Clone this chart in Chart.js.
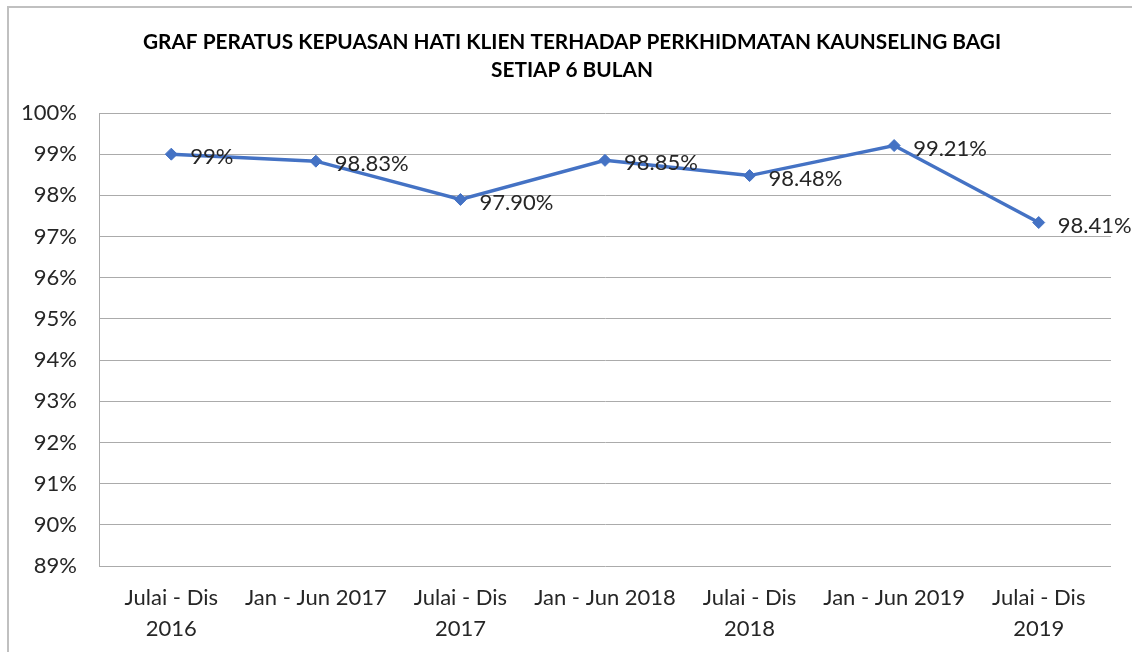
<!DOCTYPE html>
<html>
<head>
<meta charset="utf-8">
<script src="https://cdn.jsdelivr.net/npm/chart.js@4"></script>
<style>
  html, body { margin: 0; padding: 0; background: #fff; overflow: hidden; }
  #wrap { position: relative; width: 1132px; height: 652px; }
  #frame { position: absolute; left: 7px; top: 6px; width: 1140px; height: 660px; border: 2px solid #c0c0c0; box-sizing: border-box; }
  canvas { position: absolute; left: 0; top: 0; }
</style>
</head>
<body>
<div id="wrap">
  <div id="frame"></div>
  <canvas id="chart" width="1132" height="652"></canvas>
</div>
<script>
// data
const titleLines = ["GRAF PERATUS KEPUASAN HATI KLIEN TERHADAP PERKHIDMATAN KAUNSELING BAGI", "SETIAP 6 BULAN"];
const categories = [
  ["Julai - Dis", "2016"],
  "Jan - Jun 2017",
  ["Julai - Dis", "2017"],
  "Jan - Jun 2018",
  ["Julai - Dis", "2018"],
  "Jan - Jun 2019",
  ["Julai - Dis", "2019"],
];
const values = [99.0, 98.83, 97.9, 98.85, 98.48, 99.21, 97.34];
const pointLabels = ["99%", "98.83%", "97.90%", "98.85%", "98.48%", "99.21%", "98.41%"];
const yMin = 89, yMax = 100;

const FONT = "Lato";
const BLUE = "#4472C4";

// title drawn centred over the chart
const titlePlugin = {
  id: "titleLines",
  afterDraw(chart) {
    const ctx = chart.ctx;
    ctx.save();
    ctx.font = "bold 20.8px " + FONT;
    ctx.fillStyle = "#000";
    ctx.textAlign = "center";
    ctx.textBaseline = "middle";
    ctx.fillText(titleLines[0], 572, 42);
    ctx.fillText(titleLines[1], 572, 70);
    ctx.restore();
  }
};

// value labels to the right of each point
const valueLabels = {
  id: "valueLabels",
  afterDatasetsDraw(chart) {
    const ctx = chart.ctx;
    const meta = chart.getDatasetMeta(0);
    ctx.save();
    ctx.font = "22px " + FONT;
    ctx.fillStyle = "#262626";
    ctx.textAlign = "left";
    ctx.textBaseline = "middle";
    meta.data.forEach((pt, i) => {
      ctx.fillText(pointLabels[i], pt.x + 19, pt.y + 3);
    });
    ctx.restore();
  }
};

new Chart(document.getElementById("chart"), {
  type: "line",
  data: {
    labels: categories,
    datasets: [{
      data: values,
      borderColor: BLUE,
      backgroundColor: BLUE,
      borderWidth: 3.5,
      pointStyle: "rectRot",
      pointRadius: 6,
      pointBorderWidth: 1,
      pointHoverRadius: 6,
      tension: 0,
    }],
  },
  options: {
    responsive: false,
    animation: false,
    devicePixelRatio: 1,
    layout: { padding: { top: 113, right: 21, left: 0, bottom: 0 } },
    plugins: {
      legend: { display: false },
      title: { display: false },
      tooltip: { enabled: false },
    },
    scales: {
      x: {
        offset: true,
        grid: { display: false, drawTicks: false },
        border: { display: false },
        ticks: {
          color: "#262626",
          font: { family: FONT, size: 22, lineHeight: 1.4 },
          padding: 17,
          maxRotation: 0,
          autoSkip: false,
        },
        afterFit(scale) { scale.height = 86; },
      },
      y: {
        min: yMin,
        max: yMax,
        grid: { color: "#ababab", lineWidth: 1, drawTicks: false },
        border: { display: true, color: "#ababab", width: 1 },
        ticks: {
          stepSize: 1,
          color: "#262626",
          font: { family: FONT, size: 22 },
          padding: 22,
          callback: v => v + "%",
        },
        afterFit(scale) { scale.width = 99; },
      },
    },
  },
  plugins: [titlePlugin, valueLabels],
});
</script>
</body>
</html>
